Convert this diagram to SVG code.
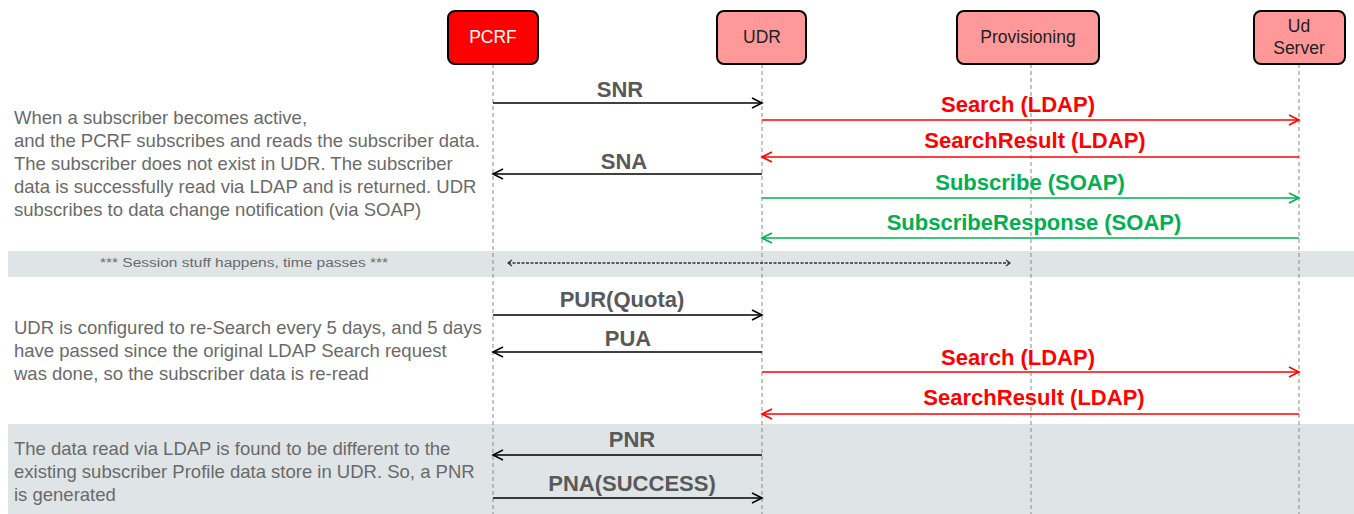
<svg xmlns="http://www.w3.org/2000/svg" width="1354" height="514" viewBox="0 0 1354 514">
<style>
.node{stroke:#000;stroke-width:2}
.ntext{font-family:"Liberation Sans",Arial,sans-serif;font-size:17.5px;text-anchor:middle}
.life{stroke:#8a8a8a;stroke-width:1;stroke-dasharray:4 3}
.band{fill:#dfe4e6}
.desc{font-family:"Liberation Sans",Arial,sans-serif;font-size:18.5px;fill:#6a6a6a}
.lbl{font-family:"Liberation Sans",Arial,sans-serif;font-size:22px;font-weight:bold;text-anchor:middle}
.g{fill:#595959}.r{fill:#ff0000}.gr{fill:#00b050}
.blk{stroke:#000;stroke-width:1.6;fill:none;marker-end:url(#mb)}
.red{stroke:#ff0000;stroke-width:1.6;fill:none;marker-end:url(#mr)}
.grn{stroke:#00b050;stroke-width:1.6;fill:none;marker-end:url(#mg)}
</style>
<defs>
<marker id="mb" markerUnits="userSpaceOnUse" markerWidth="14" markerHeight="14" refX="11" refY="6" orient="auto"><path d="M1,1 L11,6 L1,11" fill="none" stroke="#000" stroke-width="1.6"/></marker>
<marker id="mr" markerUnits="userSpaceOnUse" markerWidth="14" markerHeight="14" refX="11" refY="6" orient="auto"><path d="M1,1 L11,6 L1,11" fill="none" stroke="#ff0000" stroke-width="1.6"/></marker>
<marker id="mg" markerUnits="userSpaceOnUse" markerWidth="14" markerHeight="14" refX="11" refY="6" orient="auto"><path d="M1,1 L11,6 L1,11" fill="none" stroke="#00b050" stroke-width="1.6"/></marker>
<marker id="md" markerUnits="userSpaceOnUse" markerWidth="10" markerHeight="10" refX="5" refY="4" orient="auto-start-reverse"><path d="M1,1 L5,4 L1,7" fill="none" stroke="#333" stroke-width="1.2"/></marker>
</defs>
<rect width="1354" height="514" fill="#fff"/>
<rect class="band" x="8" y="251" width="1346" height="26"/>
<rect class="band" x="8" y="424" width="1346" height="90"/>
<g id="lifelines">
<line class="life" x1="493" y1="64" x2="493" y2="514"/>
<line class="life" x1="762" y1="64" x2="762" y2="514"/>
<line class="life" x1="1031" y1="64" x2="1031" y2="514"/>
<line class="life" x1="1299" y1="64" x2="1299" y2="514"/>
</g>
<g id="PCRF"><rect class="node" x="448" y="11" width="90" height="53" rx="7" fill="#ff0000"/><text class="ntext" x="493" y="43" fill="#fff">PCRF</text></g>
<g id="UDR"><rect class="node" x="717" y="11" width="89" height="53" rx="7" fill="#ff9999"/><text class="ntext" x="762" y="43" fill="#222">UDR</text></g>
<g id="Provisioning"><rect class="node" x="957" y="11" width="142" height="53" rx="7" fill="#ff9999"/><text class="ntext" x="1028" y="43" fill="#222">Provisioning</text></g>
<g id="UdServer"><rect class="node" x="1254" y="11" width="91" height="53" rx="7" fill="#ff9999"/><text class="ntext" x="1299" y="32" fill="#222">Ud</text><text class="ntext" x="1299" y="54" fill="#222">Server</text></g>
<g id="notes">
<text class="desc" x="14" y="124">When a subscriber becomes active,</text>
<text class="desc" x="14" y="147">and the PCRF subscribes and reads the subscriber data.</text>
<text class="desc" x="14" y="170">The subscriber does not exist in UDR. The subscriber</text>
<text class="desc" x="14" y="193">data is successfully read via LDAP and is returned. UDR</text>
<text class="desc" x="14" y="216">subscribes to data change notification  (via SOAP)</text>
<text x="100" y="267" font-family="Liberation Sans,Arial,sans-serif" font-size="12" fill="#6a6a6a" textLength="288" lengthAdjust="spacingAndGlyphs">*** Session stuff happens, time passes ***</text>
<text class="desc" x="14" y="334">UDR is configured to re-Search every 5 days, and 5 days</text>
<text class="desc" x="14" y="357">have passed since the original LDAP Search request</text>
<text class="desc" x="14" y="380">was done, so the subscriber data is re-read</text>
<text class="desc" x="14" y="455">The data read via LDAP is found to be different to the</text>
<text class="desc" x="14" y="478">existing subscriber Profile data store in UDR. So, a PNR</text>
<text class="desc" x="14" y="501">is generated</text>
</g>
<g id="connectors">
<line class="blk" x1="493" y1="103" x2="762" y2="103"/>
<text class="lbl g" x="620" y="97">SNR</text>
<line class="red" x1="762" y1="120" x2="1299" y2="120"/>
<text class="lbl r" x="1018" y="112">Search (LDAP)</text>
<line class="red" x1="1299" y1="157" x2="762" y2="157"/>
<text class="lbl r" x="1035" y="148">SearchResult (LDAP)</text>
<line class="blk" x1="762" y1="174" x2="493" y2="174"/>
<text class="lbl g" x="624" y="169">SNA</text>
<line class="grn" x1="762" y1="198" x2="1299" y2="198"/>
<text class="lbl gr" x="1030" y="190">Subscribe (SOAP)</text>
<line class="grn" x1="1299" y1="238" x2="762" y2="238"/>
<text class="lbl gr" x="1034" y="230">SubscribeResponse (SOAP)</text>
<line x1="508" y1="263" x2="1010" y2="263" stroke="#333" stroke-width="1.3" stroke-dasharray="3 1.5" marker-start="url(#md)" marker-end="url(#md)"/>
<line class="blk" x1="493" y1="315" x2="762" y2="315"/>
<text class="lbl g" x="622" y="307">PUR(Quota)</text>
<line class="blk" x1="762" y1="352" x2="493" y2="352"/>
<text class="lbl g" x="628" y="346">PUA</text>
<line class="red" x1="762" y1="372" x2="1299" y2="372"/>
<text class="lbl r" x="1018" y="365">Search (LDAP)</text>
<line class="red" x1="1299" y1="414" x2="762" y2="414"/>
<text class="lbl r" x="1034" y="405">SearchResult (LDAP)</text>
<line class="blk" x1="762" y1="455" x2="493" y2="455"/>
<text class="lbl g" x="632" y="447">PNR</text>
<line class="blk" x1="493" y1="498" x2="762" y2="498"/>
<text class="lbl g" x="632" y="491">PNA(SUCCESS)</text>
</g>
</svg>
